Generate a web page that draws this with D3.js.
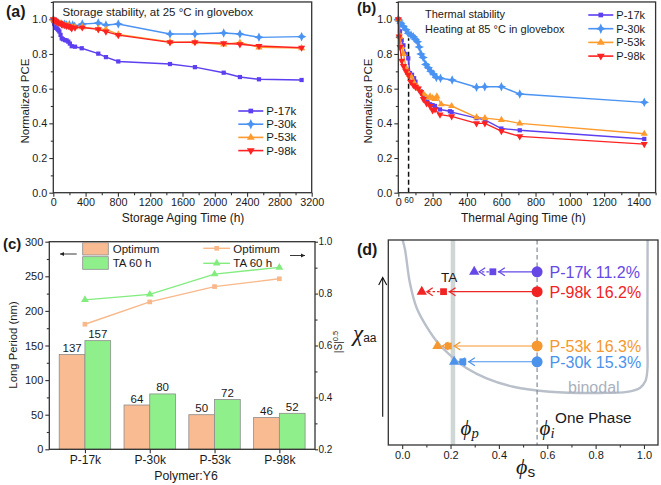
<!DOCTYPE html>
<html><head><meta charset="utf-8">
<script src="https://cdn.jsdelivr.net/npm/d3@7"></script>
<style>body{margin:0;background:#fff}svg{display:block}text{font-family:"Liberation Sans",Arial,sans-serif;fill:#1a1a1a}</style>
</head><body><svg id="c" width="661" height="485"></svg>
<script>
// ---------- DATA ----------
const seriesNames = ["P-17k","P-30k","P-53k","P-98k"];
// (a) storage stability [hours, normalized PCE]
const storageP17k = [[0,0.99],[10,0.975],[21,0.965],[35,0.95],[50,0.945],[62,0.938],[75,0.93],[90,0.91],[104,0.89],[120,0.885],[145,0.88],[165,0.878],[186,0.871],[205,0.86],[228,0.845],[269,0.842],[352,0.833],[557,0.802],[652,0.782],[805,0.757],[1445,0.742],[1754,0.724],[2110,0.692],[2311,0.667],[2547,0.654],[3075,0.65]];
const storageP30k = [[0,1.0],[20,0.99],[40,0.985],[60,0.98],[104,0.973],[140,0.972],[165,0.967],[200,0.968],[240,0.967],[265,0.96],[359,0.973],[557,0.978],[652,0.967],[805,0.973],[1445,0.915],[1754,0.915],[2110,0.921],[2311,0.915],[2547,0.896],[3075,0.9]];
const storageP53k = [[0,1.0],[20,0.99],[40,0.985],[60,0.98],[90,0.975],[120,0.972],[150,0.968],[186,0.965],[228,0.958],[269,0.955],[359,0.955],[557,0.945],[652,0.942],[805,0.913],[1445,0.87],[1754,0.868],[2110,0.855],[2311,0.866],[2547,0.838],[3075,0.834]];
const storageP98k = [[0,1.0],[12,0.995],[24,0.99],[40,0.985],[60,0.98],[83,0.978],[100,0.972],[120,0.968],[145,0.965],[165,0.962],[186,0.961],[210,0.955],[228,0.948],[269,0.952],[359,0.953],[557,0.942],[652,0.929],[805,0.909],[1445,0.867],[1754,0.868],[2110,0.862],[2311,0.856],[2547,0.846],[3075,0.836]];
// (b) thermal stability [hours, normalized PCE]
const thermalP17k = [[0,1.0],[10,0.93],[20,0.88],[30,0.85],[43,0.8],[58,0.775],[68,0.69],[80,0.68],[92,0.66],[100,0.64],[117,0.6],[130,0.585],[146,0.565],[169,0.525],[185,0.51],[200,0.505],[214,0.5],[243,0.48],[301,0.47],[311,0.465],[456,0.43],[505,0.42],[601,0.37],[708,0.36],[1434,0.31]];
const thermalP30k = [[0,1.0],[5,0.99],[15,0.977],[29,0.96],[45,0.94],[58,0.92],[74,0.91],[87,0.9],[100,0.885],[112,0.87],[122,0.84],[132,0.8],[145,0.78],[160,0.74],[175,0.72],[190,0.7],[205,0.685],[222,0.665],[246,0.66],[314,0.65],[456,0.608],[504,0.611],[601,0.611],[708,0.569],[1434,0.521]];
const thermalP53k = [[0,1.0],[10,0.9],[20,0.84],[30,0.8],[45,0.72],[58,0.69],[64,0.68],[75,0.67],[88,0.64],[100,0.62],[117,0.6],[146,0.57],[165,0.55],[185,0.555],[200,0.545],[214,0.54],[225,0.555],[250,0.51],[311,0.5],[456,0.435],[505,0.43],[601,0.42],[708,0.4],[1434,0.34]];
const thermalP98k = [[0,1.0],[5,0.9],[10,0.84],[20,0.76],[30,0.73],[45,0.7],[58,0.68],[72,0.64],[88,0.62],[100,0.61],[117,0.6],[130,0.58],[146,0.54],[165,0.515],[185,0.5],[200,0.475],[214,0.48],[243,0.45],[311,0.44],[456,0.4],[505,0.4],[601,0.355],[708,0.325],[1434,0.28]];
// (c) long period & |S|^0.5
const polymers = ["P-17k","P-30k","P-53k","P-98k"];
const periodOptimum = [137,64,50,46];
const periodTA60 = [157,80,72,52];
const sOptimum = [0.682,0.768,0.827,0.857];
const sTA60 = [0.776,0.797,0.875,0.901];
// (d) phase diagram
const phaseLabels = ["P-17k 11.2%","P-98k 16.2%","P-53k 16.3%","P-30k 15.3%"];
const phaseChi = [0.845,0.748,0.483,0.406];
const phiOptimum = [0.375,0.171,0.191,0.251];
const phiTA = [0.298,0.081,0.146,0.215];
const phiInitial = 0.558;
const phiPercolation = 0.21;
const binodalPhi = [0.002,0.012,0.032,0.060,0.101,0.149,0.205,0.267,0.349,0.459,0.611,0.818,0.93,0.983,1.006,1.014,1.014,1.015];
const binodalChi = [1.0,0.951,0.790,0.668,0.577,0.496,0.431,0.374,0.325,0.284,0.260,0.254,0.259,0.278,0.312,0.366,0.512,1.0];

// ---------- STYLE ----------
const colors = {"P-17k":"#5c3ff0","P-30k":"#4a93f2","P-53k":"#ff9a2c","P-98k":"#ff2222"};
const dColors = ["#6648e6","#f02424","#f5982f","#4b92ec"];
const AX = "#333";
const svg = d3.select("#c");
svg.append("rect").attr("width",661).attr("height",485).attr("fill","#fff");

const star4 = {draw(ctx,size){const r=Math.sqrt(size)*0.75,q=r*0.32;ctx.moveTo(0,-r);ctx.lineTo(q,-q);ctx.lineTo(r,0);ctx.lineTo(q,q);ctx.lineTo(0,r);ctx.lineTo(-q,q);ctx.lineTo(-r,0);ctx.lineTo(-q,-q);ctx.closePath();}};
const markerDef = {"P-17k":{t:d3.symbolSquare,s:18,r:0},"P-30k":{t:star4,s:40,r:0},"P-53k":{t:d3.symbolTriangle,s:22,r:0},"P-98k":{t:d3.symbolTriangle,s:22,r:180}};

function frame(x0,y0,x1,y1){svg.append("rect").attr("x",x0).attr("y",y0).attr("width",x1-x0).attr("height",y1-y0).attr("fill","none").attr("stroke",AX).attr("stroke-width",1.3);}
function styleAxis(g,fs){g.select(".domain").remove();g.selectAll("line").attr("stroke",AX).attr("stroke-width",1.1);g.selectAll("text").attr("font-size",fs).attr("fill","#1a1a1a").style("font-family",'"Liberation Sans",Arial,sans-serif');}
function xAxis(scale,y,ticks,minor,fmt,fs){
  const g=svg.append("g").attr("transform",`translate(0,${y})`).call(d3.axisBottom(scale).tickValues(ticks).tickFormat(fmt).tickSize(4).tickPadding(2));
  styleAxis(g,fs);
  const m=svg.append("g").attr("transform",`translate(0,${y})`).call(d3.axisBottom(scale).tickValues(minor).tickFormat("").tickSize(2.5));
  styleAxis(m,fs);
}
function yAxis(scale,x,ticks,minor,fmt,fs,right,size=4,pad=2){
  const A=right?d3.axisRight:d3.axisLeft;
  const g=svg.append("g").attr("transform",`translate(${x},0)`).call(A(scale).tickValues(ticks).tickFormat(fmt).tickSize(size).tickPadding(pad));
  styleAxis(g,fs);
  if(minor){const m=svg.append("g").attr("transform",`translate(${x},0)`).call(A(scale).tickValues(minor).tickFormat("").tickSize(2.5));styleAxis(m,fs);}
}
function txt(x,y,s,fs,opt={}){const t=svg.append("text").attr("x",x).attr("y",y).attr("font-size",fs).text(s);
  if(opt.anchor)t.attr("text-anchor",opt.anchor);if(opt.weight)t.attr("font-weight",opt.weight);if(opt.fill)t.style("fill",opt.fill);if(opt.rot)t.attr("transform",`rotate(${opt.rot},${x},${y})`);if(opt.family)t.style("font-family",opt.family);if(opt.style)t.attr("font-style",opt.style);return t;}
const f1 = d3.format(".1f");
const range = (a,b,s)=>d3.range(a,b+s/2,s);

function linePanel(xs,ys,data){
  const line=d3.line().x(d=>xs(d[0])).y(d=>ys(d[1]));
  data.forEach(([name,arr])=>{
    svg.append("path").attr("d",line(arr)).attr("fill","none").attr("stroke",colors[name]).attr("stroke-width",1.4);
    const md=markerDef[name];
    svg.append("g").selectAll("path").data(arr).enter().append("path")
      .attr("d",d3.symbol().type(md.t).size(md.s)).attr("fill",colors[name])
      .attr("transform",d=>`translate(${xs(d[0])},${ys(d[1])}) rotate(${md.r})`);
  });
}
function legendRow(x,y,name,fs,len){
  svg.append("line").attr("x1",x).attr("x2",x+len).attr("y1",y).attr("y2",y).attr("stroke",colors[name]).attr("stroke-width",1.6);
  const md=markerDef[name];
  svg.append("path").attr("d",d3.symbol().type(md.t).size(md.s*1.2)).attr("fill",colors[name]).attr("transform",`translate(${x+len/2},${y}) rotate(${md.r})`);
  txt(x+len+3,y+4,name,fs);
}

// ---------- PANEL A ----------
const xA=d3.scaleLinear([0,3200],[53.3,311.7]);
const yA=d3.scaleLinear([0,1.1],[192.7,192.7-1.1*173.4]);
xAxis(xA,192.7,range(0,3200,400),range(200,3000,400),d3.format("d"),10.8);
yAxis(yA,53.3,range(0,1,0.2),range(0.1,1.1,0.2),f1,10.8);
linePanel(xA,yA,[["P-17k",storageP17k],["P-30k",storageP30k],["P-53k",storageP53k],["P-98k",storageP98k]]);
frame(53.3,yA(1.1),311.7,192.7);
txt(62.5,16,"Storage stability, at 25 °C in glovebox",11.5);
[0,1,2,3].forEach(i=>legendRow(238.3,111+13.2*i,seriesNames[i],11.5,25));
txt(183,221.5,"Storage Aging Time (h)",12,{anchor:"middle"});
txt(29,101,"Normalized PCE",11.5,{anchor:"middle",rot:-90});
txt(6,17,"(a)",16,{weight:"bold"});

// ---------- PANEL B ----------
const xB=d3.scaleLinear([0,1500],[398.3,655.6]);
const yB=d3.scaleLinear([0,1.1],[192.7,192.7-1.1*173.4]);
xAxis(xB,192.7,range(0,1400,200),range(100,1500,200),d3.format("d"),10.8);
yAxis(yB,398.3,range(0,1,0.2),range(0.1,1.1,0.2),f1,10.8);
svg.append("line").attr("x1",xB(60)).attr("x2",xB(60)).attr("y1",yB(0)).attr("y2",yB(0.89)).attr("stroke","#111").attr("stroke-width",1.5).attr("stroke-dasharray","5,3");
linePanel(xB,yB,[["P-17k",thermalP17k],["P-30k",thermalP30k],["P-53k",thermalP53k],["P-98k",thermalP98k]]);
frame(398.3,yB(1.1),655.6,192.7);
txt(xB(60)+0.5,202.5,"60",8.5,{anchor:"middle"});
txt(425,18,"Thermal stability",11);
txt(425,33,"Heating at 85 °C in glovebox",11);
[0,1,2,3].forEach(i=>legendRow(588.3,15+13.7*i,seriesNames[i],11,25));
txt(523.3,221.5,"Thermal Aging Time (h)",12,{anchor:"middle"});
txt(372,101,"Normalized PCE",11.5,{anchor:"middle",rot:-90});
txt(357,13,"(b)",15,{weight:"bold"});

// ---------- PANEL C ----------
const xC=d3.scalePoint(polymers,[49.3,315]).padding(0.55);
const stepC=xC.step(), bw=stepC*0.397;
const yC=d3.scaleLinear([0,300],[449.3,241.7]);
const yC2=d3.scaleLinear([0.2,1.0],[449.3,241.7]);
const ORANGE="#f9bb91", GREEN="#8ff08b";
polymers.forEach((p,i)=>{
  svg.append("rect").attr("x",xC(p)-bw).attr("y",yC(periodOptimum[i])).attr("width",bw).attr("height",yC(0)-yC(periodOptimum[i])).attr("fill",ORANGE).attr("stroke","#8c8c8c").attr("stroke-width",0.8);
  svg.append("rect").attr("x",xC(p)).attr("y",yC(periodTA60[i])).attr("width",bw).attr("height",yC(0)-yC(periodTA60[i])).attr("fill",GREEN).attr("stroke","#8c8c8c").attr("stroke-width",0.8);
  txt(xC(p)-bw/2,yC(periodOptimum[i])-2.5,periodOptimum[i],11.5,{anchor:"middle"});
  txt(xC(p)+bw/2,yC(periodTA60[i])-2.5,periodTA60[i],11.5,{anchor:"middle"});
});
const lineC=d3.line().x((d,i)=>xC(polymers[i])).y(d=>yC2(d));
svg.append("path").attr("d",lineC(sOptimum)).attr("fill","none").attr("stroke","#f8b88a").attr("stroke-width",1.4);
svg.append("path").attr("d",lineC(sTA60)).attr("fill","none").attr("stroke","#82ec7e").attr("stroke-width",1.4);
svg.append("g").selectAll("path").data(sOptimum).enter().append("path").attr("d",d3.symbol().type(d3.symbolSquare).size(22)).attr("fill","#f8b88a").attr("transform",(d,i)=>`translate(${xC(polymers[i])},${yC2(d)})`);
svg.append("g").selectAll("path").data(sTA60).enter().append("path").attr("d",d3.symbol().type(d3.symbolTriangle).size(26)).attr("fill","#82ec7e").attr("transform",(d,i)=>`translate(${xC(polymers[i])},${yC2(d)})`);
xAxis(xC,449.3,polymers,[],d=>d,12);
yAxis(yC,49.3,range(0,300,50),range(25,275,50),d3.format("d"),11);
yAxis(yC2,315,range(0.2,1.0,0.2),range(0.3,0.9,0.2),f1,10,true,3,0.5);
frame(49.3,241.7,315,449.3);
// legends
svg.append("rect").attr("x",82.7).attr("y",242.7).attr("width",25.6).attr("height",12.3).attr("fill",ORANGE).attr("stroke","#8c8c8c").attr("stroke-width",0.8);
svg.append("rect").attr("x",82.7).attr("y",256.7).attr("width",25.6).attr("height",12.6).attr("fill",GREEN).attr("stroke","#8c8c8c").attr("stroke-width",0.8);
txt(112.7,252.7,"Optimum",11.5);
txt(112.7,266.7,"TA 60 h",11.5);
svg.append("line").attr("x1",203.3).attr("x2",230).attr("y1",248.3).attr("y2",248.3).attr("stroke","#f8b88a").attr("stroke-width",1.4);
svg.append("path").attr("d",d3.symbol().type(d3.symbolSquare).size(22)).attr("fill","#f8b88a").attr("transform","translate(216.7,248.3)");
svg.append("line").attr("x1",203.3).attr("x2",230).attr("y1",263.3).attr("y2",263.3).attr("stroke","#82ec7e").attr("stroke-width",1.4);
svg.append("path").attr("d",d3.symbol().type(d3.symbolTriangle).size(26)).attr("fill","#82ec7e").attr("transform","translate(216.7,263.3)");
txt(233.3,252.7,"Optimum",11.5);
txt(233.3,266.7,"TA 60 h",11.5);
function hArrow(x1,x2,y){svg.append("line").attr("x1",x1).attr("x2",x2).attr("y1",y).attr("y2",y).attr("stroke","#222").attr("stroke-width",0.9);
  const s=Math.sign(x2-x1);svg.append("path").attr("d",`M${x2},${y} L${x2-s*4},${y-2} L${x2-s*4},${y+2} Z`).attr("fill","#222");}
hArrow(76.7,60,254);
hArrow(290,305,255.5);
txt(17,345,"Long Period (nm)",11.3,{anchor:"middle",rot:-90});
const sl=svg.append("text").attr("x",341.5).attr("y",342).attr("font-size",10).attr("text-anchor","middle").attr("transform","rotate(-90,341.5,342)");
sl.append("tspan").text("|S|");sl.append("tspan").attr("font-size",7.5).attr("dy",-4).text("0.5");
txt(186,479.5,"Polymer:Y6",12.3,{anchor:"middle"});
txt(3,249,"(c)",15,{weight:"bold"});

// ---------- PANEL D ----------
const xD=d3.scaleLinear([-0.0574,1.058],[388.3,658]);
const yD=d3.scaleLinear([0,1],[445,240]);
svg.append("defs").append("clipPath").attr("id","dclip").append("rect").attr("x",388.3).attr("y",240).attr("width",658-388.3).attr("height",205);
svg.append("line").attr("x1",xD(phiPercolation)).attr("x2",xD(phiPercolation)).attr("y1",240).attr("y2",445).attr("stroke","#cfd6d6").attr("stroke-width",4.5);
const binLine=d3.line().x(d=>xD(d[0])).y(d=>yD(d[1])).curve(d3.curveCatmullRom.alpha(0.5));
svg.append("path").attr("clip-path","url(#dclip)").attr("d",binLine(binodalPhi.map((p,i)=>[p,binodalChi[i]]))).attr("fill","none").attr("stroke","#b9c0ca").attr("stroke-width",2.4);
svg.append("line").attr("x1",xD(phiInitial)).attr("x2",xD(phiInitial)).attr("y1",240).attr("y2",445).attr("stroke","#7f8a96").attr("stroke-width",1.2).attr("stroke-dasharray","4.5,3");
txt(568,392.5,"binodal",16,{fill:"#a9b1bd"});
phaseLabels.forEach((lab,i)=>{
  const y=yD(phaseChi[i]), c=dColors[i];
  const xc=xD(phiInitial), xs=xD(phiOptimum[i]), xt=xD(phiTA[i]);
  svg.append("line").attr("x1",xc).attr("x2",xs+5).attr("y1",y).attr("y2",y).attr("stroke",c).attr("stroke-width",1.2);
  svg.append("path").attr("d",`M${xs+12},${y-4} L${xs+6},${y} L${xs+12},${y+4}`).attr("fill","none").attr("stroke",c).attr("stroke-width",1.2);
  svg.append("line").attr("x1",xs-4).attr("x2",xt+5).attr("y1",y).attr("y2",y).attr("stroke",c).attr("stroke-width",1.2).attr("stroke-dasharray","2.5,2");
  svg.append("path").attr("d",`M${xt+11},${y-4} L${xt+5},${y} L${xt+11},${y+4}`).attr("fill","none").attr("stroke",c).attr("stroke-width",1.2);
  svg.append("circle").attr("cx",xc).attr("cy",y).attr("r",5.5).attr("fill",c);
  svg.append("path").attr("d",d3.symbol().type(d3.symbolSquare).size(46)).attr("fill",c).attr("transform",`translate(${xs},${y})`);
  svg.append("path").attr("d",d3.symbol().type(d3.symbolTriangle).size(46)).attr("fill",c).attr("transform",`translate(${xt},${y})`);
  txt(549.5,y+6,lab,16,{fill:c});
});
txt(441,281.7,"TA",13.5);
txt(555,423,"One Phase",15.3);
const serif='"Liberation Serif","DejaVu Serif",serif';
function phiLabel(x,y,sub,fs,subItalic){const t=svg.append("text").attr("x",x).attr("y",y).attr("font-size",fs).style("font-family",serif).attr("font-style","italic").text("ϕ");
  t.append("tspan").attr("font-size",fs*0.7).attr("dy",fs*0.15).attr("font-style",subItalic?"italic":"normal").style("font-family",subItalic?serif:'"Liberation Sans",Arial,sans-serif').text(sub);}
phiLabel(460.5,434.5,"p",21,true);
phiLabel(539.5,434.5,"i",21,true);
phiLabel(516,474,"s",22,false);
// chi_aa and arrow
const chi=svg.append("text").attr("x",353).attr("y",341).attr("font-size",23).style("font-family",serif).attr("font-style","italic").text("χ");
chi.append("tspan").attr("font-size",12).attr("dy",1).attr("font-style","normal").style("font-family",'"Liberation Sans",Arial,sans-serif').text("aa");
svg.append("line").attr("x1",382.7).attr("x2",382.7).attr("y1",416.7).attr("y2",278).attr("stroke","#111").attr("stroke-width",1.1);
svg.append("path").attr("d","M378.7,285 L382.7,277.5 L386.7,285").attr("fill","none").attr("stroke","#111").attr("stroke-width",1.1);
xAxis(xD,445,range(0,1,0.2),range(0.1,0.9,0.2),f1,11);
frame(388.3,240,658,445);
txt(357,255,"(d)",16,{weight:"bold"});
</script></body></html>
